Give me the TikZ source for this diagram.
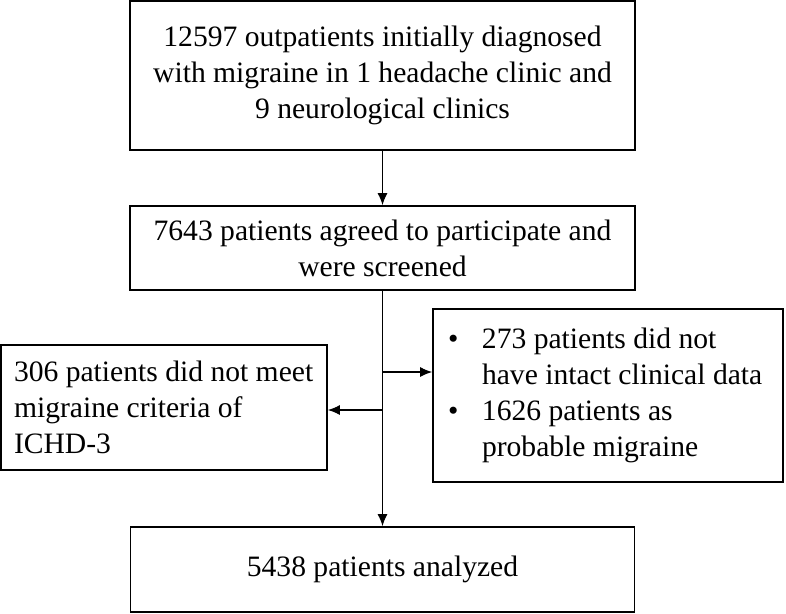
\documentclass[tikz,border=0pt]{standalone}
\usepackage{fontspec}
\setmainfont{Liberation Serif}
\usetikzlibrary{arrows.meta,calc}
\begin{document}
\begin{tikzpicture}[x=1pt,y=1pt,
  box/.style={draw=black,line width=1.8pt,rectangle,inner sep=0pt,font=\fontsize{29.6}{35.8}\selectfont},
  arr/.style={line width=1.1pt,-{Latex[length=12pt,width=10pt]}}]
\useasboundingbox (0,0) rectangle (786,-613);
\node[box,minimum width=505,minimum height=149,align=center] (b1) at (382.5,-75.5)
  {12597 outpatients initially diagnosed\\with migraine in 1 headache clinic and\\9 neurological clinics};
\node[box,minimum width=505,minimum height=84,align=center] (b2) at (382.5,-248)
  {7643 patients agreed to participate and\\were screened};
\node[box,minimum width=326,minimum height=125,text width=300,inner xsep=13pt,align=flush left] (b3) at (164,-407.5)
  {306 patients did not meet\\migraine criteria of\\ICHD-3};
\node[box,minimum width=350,minimum height=173,text width=320,inner xsep=15pt,align=flush left] (b4) at (608,-395.5)
  {\makebox[34pt][l]{\textbullet}273 patients did not\\
   \hspace*{34pt}have intact clinical data\\
   \makebox[34pt][l]{\textbullet}1626 patients as\\
   \hspace*{34pt}probable migraine};
\node[box,minimum width=504,minimum height=85,align=center] (b5) at (382.5,-569.5)
  {5438 patients analyzed};
\coordinate (r) at (382.5,-372);
\coordinate (l) at (382.5,-410);
\draw[arr] (b1.south) -- (b2.north);
\draw[arr] (b2.south) -- (b5.north);
\draw[arr] (r) -- (r -| b4.west);
\draw[arr] (l) -- (l -| b3.east);
\end{tikzpicture}
\end{document}
